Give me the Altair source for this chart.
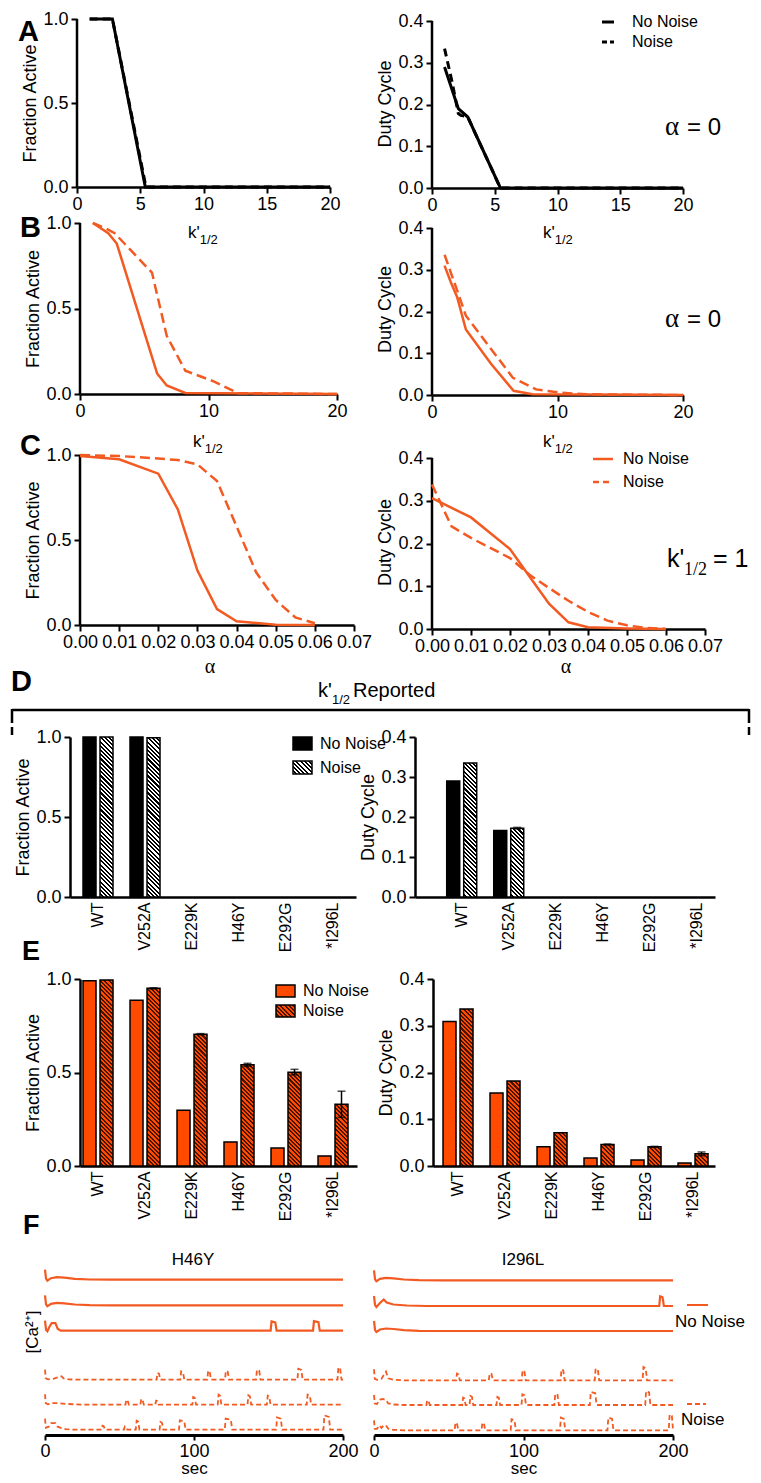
import altair as alt
import pandas as pd

FONT = "Liberation Sans"
SERIF = "Liberation Serif"
BLK = "#000000"
OR_LINE = "#F25A22"
OR_BAR = "#FF4A00"
HATCH_DARK = "#4A1500"
XL = 9      # left edge of the left panels' layout frames
XR = 750    # right edge of layout

# ---------------- data ----------------
# A : alpha = 0 (black)
A_fa_k_nn = [1.0, 2.0, 2.8, 5.4, 20.0]
A_fa_v_nn = [1.0, 1.0, 1.0, 0.0, 0.0]
A_fa_k_n = [1.0, 2.0, 2.8, 5.45, 20.0]
A_fa_v_n = [1.0, 1.0, 1.0, 0.0, 0.0]
A_dc_k_nn = [1.0, 2.1, 2.85, 5.45, 20.0]
A_dc_v_nn = [0.29, 0.19, 0.17, 0.0, 0.0]
A_dc_k_n = [1.0, 1.6, 2.1, 2.3, 2.85, 5.45, 20.0]
A_dc_v_n = [0.334, 0.254, 0.178, 0.174, 0.17, 0.0, 0.0]
# B : alpha = 0 (orange)
B_fa_k_nn = [1.0, 2.2, 2.86, 6.0, 6.75, 8.2, 20.0]
B_fa_v_nn = [1.0, 0.94, 0.88, 0.12, 0.05, 0.006, 0.0]
B_fa_k_n = [1.0, 1.95, 2.7, 5.6, 6.75, 8.2, 10.4, 12.3, 20.0]
B_fa_v_n = [1.0, 0.97, 0.94, 0.71, 0.34, 0.136, 0.074, 0.005, 0.0]
B_dc_k_nn = [1.0, 1.5, 2.0, 2.7, 4.7, 6.5, 8.0, 20.0]
B_dc_v_nn = [0.31, 0.27, 0.235, 0.157, 0.075, 0.01, 0.002, 0.0]
B_dc_k_n = [1.0, 2.3, 2.7, 6.45, 8.3, 10.2, 12.3, 20.0]
B_dc_v_n = [0.336, 0.225, 0.19, 0.041, 0.0135, 0.0056, 0.0016, 0.0]
# C : k'1/2 = 1
C_fa_a_nn = [0, .01, .02, .025, .03, .035, .04, .05, .06]
C_fa_v_nn = [0.994, 0.975, 0.89, 0.68, 0.32, 0.094, 0.022, 0.002, 0.0]
C_fa_a_n = [0, .01, .02, .025, .03, .035, .04, .045, .05, .055, .06]
C_fa_v_n = [1.0, 0.994, 0.98, 0.97, 0.945, 0.847, 0.58, 0.31, 0.147, 0.045, 0.01]
C_dc_a_nn = [0, .01, .02, .025, .03, .035, .04, .05, .06]
C_dc_v_nn = [0.306, 0.261, 0.187, 0.123, 0.059, 0.0156, 0.004, 0.001, 0.0]
C_dc_a_n = [0, .005, .01, .02, .025, .03, .035, .04, .045, .05, .055, .06]
C_dc_v_n = [0.338, 0.24, 0.213, 0.166, 0.127, 0.096, 0.066, 0.04, 0.0195, 0.0086, 0.0023, 0.0]
# D / E bars
MUTANTS = ["WT", "V252A", "E229K", "H46Y", "E292G", "*I296L"]
D_fa_nn = [1.0, 1.0, 0, 0, 0, 0]
D_fa_n = [1.0, 0.995, 0, 0, 0, 0]
D_fa_err = [0, 0, 0, 0, 0, 0]
D_dc_nn = [0.29, 0.166, 0, 0, 0, 0]
D_dc_n = [0.335, 0.172, 0, 0, 0, 0]
D_dc_err = [0, 0.002, 0, 0, 0, 0]
E_fa_nn = [0.99, 0.887, 0.298, 0.129, 0.096, 0.054]
E_fa_n = [0.995, 0.95, 0.705, 0.541, 0.502, 0.33]
E_fa_err = [0, 0.003, 0.003, 0.008, 0.015, 0.07]
E_dc_nn = [0.309, 0.156, 0.041, 0.017, 0.013, 0.0064]
E_dc_n = [0.336, 0.182, 0.071, 0.046, 0.041, 0.026]
E_dc_err = [0, 0, 0, 0.001, 0.001, 0.004]
# F traces: start transient (t, dy) and spikes (t, height, plateau width)
TR_S = [(0, 10), (0.7, 1), (1.6, -1), (4, 1.5), (8, 2.5), (13, 2), (20, 0.8), (30, 0.2), (45, 0)]
TR_H = [(0, 10), (0.7, 1), (1.6, -0.5), (3, 4), (4.5, 7.5), (7, 7.5), (8.5, 2), (10.5, 0), (14, 0)]
TR_S2 = [(0, 10), (0.7, 1), (1.6, -1), (4, 3), (6.5, 6.5), (8.5, 3.5), (13, 1.5), (22, 0.5), (35, 0)]
H46Y_TRACES = [
    ("s", 155.3, TR_S, []),
    ("s", 129.7, TR_S, []),
    ("s", 104.3, TR_H, [(153.3, 9.3, 2.5), (182, 9.5, 3)]),
    ("d", 55.3, [(0, 10), (0.5, 1.5), (2, 0.3), (6, 1), (9, 2.5), (11, 3.5), (12.5, 1.2), (16, 0.3), (25, 0)],
     [(76, 6.7, 1), (92, 8.3, 1.2), (110, 9, 1), (122, 9, 1.2), (143, 10, 1.5), (171, 11, 2), (197.5, 12.3, 1.2)]),
    ("d", 30.3, [(0, 10.5), (0.5, 1.5), (2, 0.5), (5, 1.5), (9, 1.5), (14, 0.8), (25, 0)],
     [(55, 5, 0.8), (65, 5.7, 0.8), (75, 4, 0.8), (100, 7.7, 1), (117, 10, 1), (137, 9.3, 1), (150, 9, 1), (177, 10, 1.5)]),
    ("d", 5.3, [(0, 11), (0.6, 2), (2.5, 3), (4, 6.5), (7, 6.5), (8.5, 3), (11, 1.5), (14, 0.5), (20, 0)],
     [(39, 4, 0.8), (54, 3.3, 0.8), (62, 9, 1), (78, 7.7, 1), (92, 9.3, 3), (123, 11, 3.5), (157, 12.3, 2.5), (189, 14.3, 3)]),
]
I296L_TRACES = [
    ("s", 154.7, TR_S, []),
    ("s", 129.0, TR_S2, [(192.2, 9.7, 1.6)]),
    ("s", 104.0, TR_S, []),
    ("d", 54.7, [(0, 11), (0.5, 1.5), (2, 0.5), (5, 1.5), (8, 8.7), (9.5, 2), (13, 0.5), (20, 0)],
     [(56, 6.7, 1), (78, 7, 1.2), (100, 10, 1.2), (126, 11, 1.2), (149, 11.7, 1.5), (181, 13.3, 1.5)]),
    ("d", 30.0, [(0, 10), (0.5, 1.5), (2, 1), (4, 5.5), (6, 6), (8, 5), (9.5, 1.5), (13, 0.5), (20, 0)],
     [(36, 4.7, 0.8), (60, 7.3, 0.8), (65, 9, 1), (83, 8, 1), (100, 10.7, 1.5), (122, 11.3, 1.5), (146.5, 13, 3), (183, 14, 2)]),
    ("d", 4.7, [(0, 10), (0.5, 1.5), (2, 1.5), (3.5, 5), (5, 2.5), (6.5, 5), (8, 5), (9.5, 1.5), (13, 0.5), (20, 0)],
     [(55, 7.7, 1), (73, 7.7, 1), (93, 11, 2), (126, 12.7, 2), (158, 12.7, 2.5), (198.5, 16, 1.5)]),
]

ONE = pd.DataFrame({"z": [0]})


# ---------------- helpers ----------------
def frame(px, py, x0, y0, x1, y1):
    """invisible rule that fixes a panel's layout box (page coordinates)"""
    return alt.Chart(ONE).mark_rule(opacity=0, strokeWidth=1).encode(
        x=alt.value(x0 - px), x2=alt.value(x1 - px), y=alt.value(y0 - py), y2=alt.value(y1 - py))


def spacer(ext):
    return alt.Chart(ONE).mark_rule(opacity=0, strokeWidth=1).encode(
        x=alt.value(0), x2=alt.value(ext), y=alt.value(0), y2=alt.value(1)).properties(width=1, height=1)


def text(px, py, s, x, y, size=18, align="left", baseline="alphabetic", font=FONT,
         weight="normal", color=BLK, angle=0):
    return alt.Chart(ONE).mark_text(text=s, fontSize=size, font=font, fontWeight=weight, color=color,
                                    align=align, baseline=baseline, angle=angle).encode(
        x=alt.value(x - px), y=alt.value(y - py))


def seg(px, py, x0, y0, x1, y1, color=BLK, width=2.5, dash=None):
    kw = {"color": color, "strokeWidth": width}
    if dash:
        kw["strokeDash"] = dash
    return alt.Chart(ONE).mark_rule(**kw).encode(
        x=alt.value(x0 - px), x2=alt.value(x1 - px), y=alt.value(y0 - py), y2=alt.value(y1 - py))


def box(px, py, x0, y0, x1, y1, fill, stroke=BLK, sw=1.5):
    return alt.Chart(ONE).mark_rect(fill=fill, stroke=stroke, strokeWidth=sw).encode(
        x=alt.value(x0 - px), x2=alt.value(x1 - px), y=alt.value(y0 - py), y2=alt.value(y1 - py))


def khalf(px, py, x, y, size=17, sub=13, subfont=FONT):
    return [text(px, py, "k'", x, y, size=size),
            text(px, py, "1/2", x + 0.69 * size, y + 0.36 * size, size=sub, font=subfont)]


def hatch(wpx, hpx, c_light, c_dark, period=3.0):
    diag = (wpx + hpx) / 2 ** 0.5
    t = (wpx + hpx) / (wpx ** 2 + hpx ** 2)
    stops = []
    k = 0
    while k * period < diag:
        a = k * period / diag
        b = min((k + 0.5) * period / diag, 1.0)
        c = min((k + 1) * period / diag, 1.0)
        stops += [(a, c_light), (b, c_light), (b, c_dark), (c, c_dark)]
        k += 1
    return {"gradient": "linear", "x1": 0, "y1": 1, "x2": round(t * wpx, 6), "y2": round(1 - t * hpx, 6),
            "stops": [{"offset": round(o, 5), "color": col} for o, col in stops]}


def line_panel(px, py_row, py, w, h, xdom, xticks, xfmt, ymax, yticks, ytitle, series, fr, extras):
    """series: list of (xs, ys, color, dash, width). py_row = common plot top of the row."""
    hc = h + (py - py_row)
    ysc = alt.Scale(domain=[0, ymax * hc / h], nice=False)
    xsc = alt.Scale(domain=xdom, nice=False)
    xax = alt.Axis(values=xticks, format=xfmt, title=None, tickSize=6, labelPadding=2)
    yax = alt.Axis(values=yticks, format=".1f", title=ytitle, tickSize=6, labelPadding=3,
                   titlePadding=3, domain=False)
    X = alt.X("x:Q", scale=xsc, axis=xax)
    layers = [frame(px, py_row, *fr)]
    layers.append(alt.Chart(pd.DataFrame({"a": [0], "b": [ymax]})).mark_rule(color=BLK, strokeWidth=2.5)
                  .encode(x=alt.value(0), y=alt.Y("a:Q", scale=ysc, axis=yax), y2="b:Q"))
    for xs, ys, color, dash, width in series:
        kw = {"color": color, "strokeWidth": width}
        if dash:
            kw["strokeDash"] = dash
        layers.append(alt.Chart(pd.DataFrame({"x": xs, "y": ys})).mark_line(**kw)
                      .encode(x=X, y=alt.Y("y:Q", scale=ysc, axis=yax)))
    layers += [e(px, py_row) for e in extras]
    return alt.layer(*layers).properties(width=w, height=hc)


def T(*a, **k):
    return lambda px, py: text(px, py, *a, **k)


def S(*a, **k):
    return lambda px, py: seg(px, py, *a, **k)


def K(*a, **k):
    return lambda px, py: alt.layer(*khalf(px, py, *a, **k))


# ---------------- row A ----------------
KT = [0, 5, 10, 15, 20]
A_left = line_panel(77, 19, 19, 253, 168, [0, 20], KT, "d", 1.0, [0, 0.5, 1], "Fraction Active",
                    [(A_fa_k_nn, A_fa_v_nn, BLK, None, 3), (A_fa_k_n, A_fa_v_n, BLK, [8, 5], 3)],
                    (XL, 8, 374, 213),
                    [T("A", 18, 18, size=29, weight="bold", baseline="top")])
A_right = line_panel(432, 19, 21, 251, 167, [0, 20], KT, "d", 0.4, [0, .1, .2, .3, .4], "Duty Cycle",
                     [(A_dc_k_nn, A_dc_v_nn, BLK, None, 3), (A_dc_k_n, A_dc_v_n, BLK, [8, 5], 3)],
                     (374, 8, XR, 213),
                     [S(602, 22, 614, 22, BLK, 3), S(602, 42, 614, 42, BLK, 3, [5, 3]),
                      T("No Noise", 632, 22, size=16, baseline="middle"),
                      T("Noise", 632, 42, size=16, baseline="middle"),
                      T("α", 665, 135, size=27, font=SERIF), T("= 0", 687, 135, size=24)])

# ---------------- row B ----------------
B_left = line_panel(80, 222, 222, 257, 171, [0, 20], [0, 10, 20], "d", 1.0, [0, 0.5, 1], "Fraction Active",
                    [(B_fa_k_nn, B_fa_v_nn, OR_LINE, None, 2.5), (B_fa_k_n, B_fa_v_n, OR_LINE, [10, 5], 2.5)],
                    (XL, 213, 374, 428),
                    [T("B", 20, 213, size=29, weight="bold", baseline="top"), K(188, 237)])
B_right = line_panel(432, 222, 227, 251, 167, [0, 20], [0, 10, 20], "d", 0.4, [0, .1, .2, .3, .4], "Duty Cycle",
                     [(B_dc_k_nn, B_dc_v_nn, OR_LINE, None, 2.5), (B_dc_k_n, B_dc_v_n, OR_LINE, [10, 5], 2.5)],
                     (374, 213, XR, 428),
                     [K(543, 237), T("α", 665, 326, size=27, font=SERIF), T("= 0", 687, 326, size=24)])

# ---------------- row C ----------------
AT = [0, .01, .02, .03, .04, .05, .06, .07]
C_left = line_panel(80, 454, 454, 274, 170, [0, 0.07], AT, ".2f", 1.0, [0, 0.5, 1], "Fraction Active",
                    [(C_fa_a_nn, C_fa_v_nn, OR_LINE, None, 2.5), (C_fa_a_n, C_fa_v_n, OR_LINE, [10, 5], 2.5)],
                    (XL, 428, 374, 652),
                    [T("C", 20, 431, size=29, weight="bold", baseline="top"), K(193, 446)])
C_right = line_panel(432, 454, 457, 273, 171, [0, 0.07], AT, ".2f", 0.4, [0, .1, .2, .3, .4], "Duty Cycle",
                     [(C_dc_a_nn, C_dc_v_nn, OR_LINE, None, 2.5), (C_dc_a_n, C_dc_v_n, OR_LINE, [10, 5], 2.5)],
                     (374, 428, XR, 652),
                     [K(543, 446),
                      S(593, 458, 613, 458, OR_LINE, 2.5), S(593, 481, 613, 481, OR_LINE, 2.5, [6, 4]),
                      T("No Noise", 623, 458, size=16, baseline="middle"),
                      T("Noise", 623, 481, size=16, baseline="middle"),
                      T("k'", 667, 566, size=25), T("1/2", 684, 574, size=18, font=SERIF),
                      T("= 1", 713, 566, size=25)])

# ---------------- D title row ----------------
pxT, pyT = 8, 652
D_title = alt.layer(
    frame(pxT, pyT, 8, 652, XR, 720),
    text(pxT, pyT, "α", 210, 670, size=20, font=SERIF, align="center"),
    text(pxT, pyT, "α", 566, 670, size=20, font=SERIF, align="center"),
    text(pxT, pyT, "D", 11, 665, size=29, weight="bold", baseline="top"),
    text(pxT, pyT, "k'", 318, 694, size=20),
    text(pxT, pyT, "1/2", 332, 701, size=13),
    text(pxT, pyT, "Reported", 353, 694, size=20),
    seg(pxT, pyT, 12, 707, 749, 707, BLK, 2.5),
    seg(pxT, pyT, 12, 706, 12, 720, BLK, 2.5),
    seg(pxT, pyT, 749, 706, 749, 720, BLK, 2.5),
).properties(width=XR - 8, height=68)


# ---------------- bar panels ----------------
def bar_layers(h, ymax, ytick, ytitle, nn, n, err, fill_nn, hl, hd, po, al):
    xsc = alt.Scale(domain=MUTANTS, paddingInner=0.36, paddingOuter=po, align=al)
    ysc = alt.Scale(domain=[0, ymax], nice=False)
    xax = alt.Axis(title=None, labelAngle=-90, labelFontSize=16, ticks=False, tickSize=0, labelPadding=5)
    yax = alt.Axis(values=ytick, format=".1f", title=ytitle, tickSize=6, labelPadding=3, titlePadding=3)
    Xb = alt.X("m:N", scale=xsc, axis=xax)
    out = []
    df = pd.DataFrame({"m": MUTANTS, "v": nn})
    df = df[df["v"] > 0]
    out.append(alt.Chart(df).mark_bar(width=13, xOffset=-8.5, fill=fill_nn, stroke=BLK, strokeWidth=1.5)
               .encode(x=Xb, y=alt.Y("v:Q", scale=ysc, axis=yax)))
    for m, v in zip(MUTANTS, n):
        if v > 0:
            g = hatch(13, v / ymax * h, hl, hd)
            out.append(alt.Chart(pd.DataFrame({"m": [m], "v": [v]}))
                       .mark_bar(width=13, xOffset=8.5, fill=g, stroke=BLK, strokeWidth=1.5)
                       .encode(x=Xb, y=alt.Y("v:Q", scale=ysc, axis=yax)))
    edf = pd.DataFrame({"m": MUTANTS, "v": n, "e": err})
    edf = edf[edf["e"] > 0].copy()
    if len(edf):
        edf["lo"] = edf["v"] - edf["e"]
        edf["hi"] = edf["v"] + edf["e"]
        out.append(alt.Chart(edf).mark_rule(xOffset=8.5, color=BLK, strokeWidth=1.5)
                   .encode(x=Xb, y=alt.Y("lo:Q", scale=ysc, axis=yax), y2="hi:Q"))
        for f in ["lo", "hi"]:
            out.append(alt.Chart(edf).mark_tick(xOffset=8.5, color=BLK, thickness=1.5, size=8)
                       .encode(x=Xb, y=alt.Y(f + ":Q", scale=ysc, axis=yax)))
    return out


pxD, pyD = 70, 729
D_left = alt.layer(
    frame(pxD, pyD, XL, 720, 388, 960),
    *bar_layers(160, 1.0, [0, 0.5, 1], "Fraction Active", D_fa_nn, D_fa_n, D_fa_err, BLK, "#FFFFFF", BLK, 0.2226, 0.62),
    box(pxD, pyD, 293, 729, 312, 742, BLK),
    box(pxD, pyD, 293, 753, 312, 766, hatch(19, 13, "#FFFFFF", BLK)),
    text(pxD, pyD, "No Noise", 320, 736, size=16, baseline="middle"),
    text(pxD, pyD, "Noise", 320, 760, size=16, baseline="middle"),
    seg(pxD, pyD, 12, 719, 12, 727, BLK, 2.5),
    text(pxD, pyD, "E", 22, 931, size=27, weight="bold", baseline="top"),
).properties(width=286, height=160)

pxDr, pyDr = 415, 729
D_right = alt.layer(
    frame(pxDr, pyDr, 358, 720, XR, 960),
    *bar_layers(160, 0.4, [0, .1, .2, .3, .4], "Duty Cycle", D_dc_nn, D_dc_n, D_dc_err, BLK, "#FFFFFF", BLK, 0.37, 0.91),
    seg(pxDr, pyDr, 749, 719, 749, 727, BLK, 2.5),
).properties(width=300, height=160)

pxE, pyE = 80, 971
E_left = alt.layer(
    frame(pxE, pyE, XL, 960, 371, 1232),
    *bar_layers(187, 1.0, [0, 0.5, 1], "Fraction Active", E_fa_nn, E_fa_n, E_fa_err, OR_BAR, OR_BAR, HATCH_DARK, 0.127, 0.25),
    box(pxE, pyE, 276, 977, 295, 989, OR_BAR),
    box(pxE, pyE, 276, 997, 295, 1009, hatch(19, 12, OR_BAR, HATCH_DARK)),
    text(pxE, pyE, "No Noise", 303, 983, size=16, baseline="middle"),
    text(pxE, pyE, "Noise", 303, 1003, size=16, baseline="middle"),
    text(pxE, pyE, "F", 23, 1205, size=27, weight="bold", baseline="top"),
).properties(width=277, height=187)

pxEr, pyEr = 433, 971
E_right = alt.layer(
    frame(pxEr, pyEr, 371, 960, XR, 1232),
    *bar_layers(187, 0.4, [0, .1, .2, .3, .4], "Duty Cycle", E_dc_nn, E_dc_n, E_dc_err, OR_BAR, OR_BAR, HATCH_DARK, 0.18, 0.59),
).properties(width=282, height=187)


# ---------------- F traces ----------------
def trace_df(traces):
    rows = []
    for idx, (kind, base, start, spikes) in enumerate(traces):
        pts = list(start)
        for t, hgt, w in spikes:
            pts += [(t - w / 2 - 0.6, 0), (t - w / 2, hgt), (t + w / 2, 0.9 * hgt), (t + w / 2 + 0.9, 0)]
        pts = [p for p in pts if p[0] <= 200]
        if pts[-1][0] < 200:
            pts.append((200, 0))
        for i, (t, d) in enumerate(pts):
            rows.append({"tr": idx, "kind": kind, "i": i, "t": t, "y": base + d})
    return pd.DataFrame(rows)


def trace_layers(traces):
    df = trace_df(traces)
    X = alt.X("t:Q", scale=alt.Scale(domain=[0, 200], nice=False),
              axis=alt.Axis(values=[0, 100, 200], format="d", title="sec", tickSize=5, labelPadding=2,
                            titlePadding=0, titleFontSize=17, domainWidth=3))
    Y = alt.Y("y:Q", scale=alt.Scale(domain=[0, 170], nice=False), axis=None)
    solid = alt.Chart(df[df["kind"] == "s"]).mark_line(color=OR_LINE, strokeWidth=2.2).encode(
        x=X, y=Y, detail="tr:N", order="i:Q")
    dashed = alt.Chart(df[df["kind"] == "d"]).mark_line(color=OR_LINE, strokeWidth=1.8, strokeDash=[5, 3]).encode(
        x=X, y=Y, detail="tr:N", order="i:Q")
    return [solid, dashed]


pxF, pyF = 45, 1257
F_left = alt.layer(
    frame(pxF, pyF, XL, 1232, 363, 1469),
    *trace_layers(H46Y_TRACES),
    text(pxF, pyF, "H46Y", 193, 1252, size=17, align="center", baseline="middle"),
    text(pxF, pyF, "[Ca²⁺]", 33, 1324, size=17, align="center", baseline="middle", angle=270),
).properties(width=298, height=170)

pxFr, pyFr = 374, 1257
F_right = alt.layer(
    frame(pxFr, pyFr, 363, 1232, XR, 1469),
    *trace_layers(I296L_TRACES),
    text(pxFr, pyFr, "I296L", 523, 1252, size=17, align="center", baseline="middle"),
    seg(pxFr, pyFr, 687, 1297, 708, 1297, OR_LINE, 2),
    text(pxFr, pyFr, "No Noise", 675, 1314, size=17, baseline="middle"),
    seg(pxFr, pyFr, 687, 1396, 706, 1396, OR_LINE, 2, [5, 3]),
    text(pxFr, pyFr, "Noise", 681, 1412, size=17, baseline="middle"),
).properties(width=299, height=170)

# ---------------- assemble ----------------
rowA = alt.hconcat(spacer(1), A_left, A_right, spacing=0)
rowB = alt.hconcat(spacer(1), B_left, B_right, spacing=0)
rowC = alt.hconcat(spacer(1), C_left, C_right, spacing=0)
rowD = alt.hconcat(spacer(31), D_left, D_right, spacing=-30)
rowE = alt.hconcat(spacer(1), E_left, E_right, spacing=0)
rowF = alt.hconcat(spacer(1), F_left, F_right, spacing=0)

chart = alt.vconcat(rowA, rowB, rowC, D_title, rowD, rowE, rowF, spacing=0).properties(
    padding=0, background="white"
).configure_view(stroke="transparent", strokeWidth=0).configure_axis(
    labelFont=FONT, labelFontSize=18, labelColor=BLK, titleFont=FONT, titleFontSize=18,
    titleFontWeight="normal", titleColor=BLK, domainColor=BLK, domainWidth=2.5, tickColor=BLK,
    tickWidth=2, grid=False, labelFlush=False, labelOverlap=False
)

chart.save("out.html", embed_options={"renderer": "svg", "actions": False})
